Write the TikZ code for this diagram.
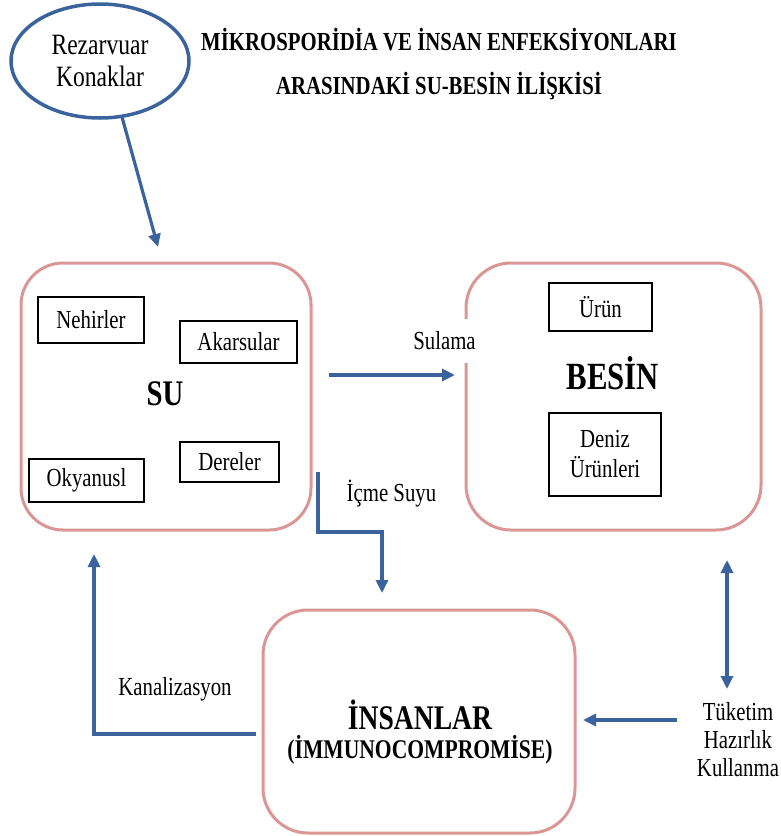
\documentclass[tikz,border=0pt]{standalone}
\usepackage{fontspec}
\setmainfont{Liberation Serif}[FakeStretch=0.80]
\usetikzlibrary{arrows.meta,shapes.geometric}
\definecolor{flowblue}{RGB}{58,99,158}
\definecolor{rose}{RGB}{218,150,148}

\begin{document}
\begin{tikzpicture}[x=1pt,y=-1pt,
  group/.style={draw=rose,line width=3pt,rounded corners=42pt,inner sep=0pt},
  item/.style={draw=black,line width=1.2pt,inner sep=0pt,align=center,
    font=\fontsize{26}{30}\selectfont},
  flow/.style={draw=flowblue,line width=3.2pt,-{Triangle[length=13pt,width=12pt]}},
  biflow/.style={draw=flowblue,line width=3.2pt,{Triangle[length=13pt,width=12pt]}-{Triangle[length=13pt,width=12pt]}},
  lbl/.style={font=\fontsize{26}{28}\selectfont,align=center,inner sep=1pt},
]
\useasboundingbox (0,0) rectangle (780,836);

% reservoir hosts
\node[ellipse,draw=flowblue,line width=3.5pt,minimum width=178pt,minimum height=114pt,
  inner sep=0pt,align=center,font=\fontsize{29.5}{32}\selectfont] (rez) at (100,61)
  {Rezarvuar\\Konaklar};

% title
\node[align=center,font=\bfseries\fontsize{26}{44}\selectfont] (title) at (439,64)
  {MİKROSPORİDİA VE İNSAN ENFEKSİYONLARI\\ARASINDAKİ SU-BESİN İLİŞKİSİ};

% water group
\node[group,minimum width=290pt,minimum height=267pt] (su) at (166,396.5) {};
\node[font=\bfseries\fontsize{36}{36}\selectfont] (sulbl) at (165,394) {SU};
\node[item,minimum width=106pt,minimum height=46pt] (nehir) at (91,320) {Nehirler};
\node[item,minimum width=117pt,minimum height=42pt] (akar) at (238.5,342) {Akarsular};
\node[item,minimum width=115pt,minimum height=43pt] (okyanus) at (86.5,480.5) {Okyanusl};
\node[item,minimum width=99pt,minimum height=40pt] (dere) at (229.5,462) {Dereler};

% food group
\node[group,rounded corners=45pt,minimum width=295pt,minimum height=267pt] (besin) at (613.5,396.5) {};
\node[font=\bfseries\fontsize{38.5}{38}\selectfont] (besinlbl) at (613,373) {BESİN};
\node[item,minimum width=103pt,minimum height=48pt] (urun) at (600.5,307) {Ürün};
\node[item,minimum width=112pt,minimum height=83pt] (deniz) at (605,454.5) {Deniz\\Ürünleri};

% humans
\node[group,rounded corners=45pt,minimum width=312pt,minimum height=223pt] (insan) at (419,721.5) {};
\node[font=\bfseries\fontsize{34.5}{34}\selectfont] (insanlbl) at (420,715) {İNSANLAR};
\node[font=\bfseries\fontsize{27}{27}\selectfont] (immuno) at (420,750) {(İMMUNOCOMPROMİSE)};

% labels on the flows
\node[lbl,fill=white,minimum height=44pt] (sulama) at (444.5,341) {Sulama};
\node[lbl] (icme) at (391.5,494) {İçme Suyu};
\node[lbl] (kanal) at (175,689) {Kanalizasyon};
\node[lbl,align=center] (tuketim) at (738,740) {Tüketim\\Hazırlık\\Kullanma};

% flow end points
\coordinate (rezOut) at (122,117);
\coordinate (suIn) at (158,247);
\coordinate (suEast) at (329,375);
\coordinate (besinWest) at (455,375);
\coordinate (suDrain) at (318,472);
\coordinate (drinkBend1) at (318,532);
\coordinate (drinkBend2) at (382,532);
\coordinate (insanTop) at (382,593);
\coordinate (insanWest) at (256,734);
\coordinate (sewerBend) at (94,734);
\coordinate (suBottom) at (94,554);
\coordinate (besinBottom) at (727,560);
\coordinate (consTop) at (727,689);
\coordinate (consWest) at (677,720);
\coordinate (insanEast) at (583,720);

% connectors
\draw[flow] (rezOut) -- (suIn);
\draw[flow] (suEast) -- (besinWest);
\draw[flow] (suDrain) -- (drinkBend1) -- (drinkBend2) -- (insanTop);
\draw[flow] (insanWest) -- (sewerBend) -- (suBottom);
\draw[biflow] (besinBottom) -- (consTop);
\draw[flow] (consWest) -- (insanEast);
\end{tikzpicture}
\end{document}
